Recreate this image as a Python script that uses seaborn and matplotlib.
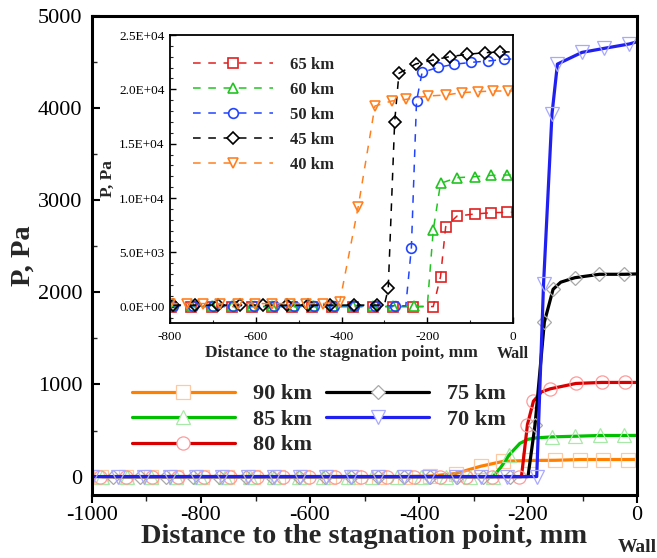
import matplotlib
matplotlib.use("Agg")
import matplotlib.pyplot as plt
from matplotlib.lines import Line2D
from matplotlib.ticker import MultipleLocator, FuncFormatter
import seaborn as sns

# ---------------- main plot data (P, Pa vs distance, mm) ----------------
labels_main = ["90 km", "85 km", "80 km", "75 km", "70 km"]

x90 = [-984, -938, -891, -845, -798, -752, -705, -659, -612, -566, -519, -473, -426, -380,
       -333, -287, -245, -198, -150, -104, -62, -16, 0]
y90 = [0, 0, 0, 0, 0, 0, 0, 0, 0, 0, 0, 0, 0, 5,
       33, 112, 166, 175, 177, 185, 185, 185, 186]
m90 = list(range(22))

x85 = [-981, -936, -891, -846, -801, -756, -711, -666, -621, -576, -531, -486, -441, -396,
       -351, -306, -264, -250, -234, -215, -200, -185, -156, -113, -68, -23, 0]
y85 = [0, 0, 0, 0, 0, 0, 0, 0, 0, 0, 0, 0, 0, 0,
       0, 0, 0, 100, 239, 360, 405, 420, 431, 438, 446, 446, 447]
m85 = list(range(17)) + [18] + list(range(22, 26))

x80 = [-986, -938, -890, -842, -794, -746, -698, -650, -602, -554, -506, -458, -410, -362,
       -314, -266, -217, -212, -201, -190, -175, -159, -112, -65, -22, 0]
y80 = [0, 0, 0, 0, 0, 0, 0, 0, 0, 0, 0, 0, 0, 0,
       0, 0, 0, 0, 565, 819, 920, 953, 1011, 1022, 1022, 1022]
m80 = list(range(17)) + [18, 19] + list(range(21, 25))

x75 = [-961, -912, -864, -815, -767, -718, -670, -621, -573, -524, -476, -427, -379, -330,
       -282, -233, -200, -187, -170, -154, -140, -114, -69, -23, 0]
y75 = [0, 0, 0, 0, 0, 0, 0, 0, 0, 0, 0, 0, 0, 0,
       0, 0, 0, 565, 1677, 2033, 2110, 2159, 2196, 2196, 2200]
m75 = list(range(16)) + [17, 18, 19] + [21, 22, 23]

x70 = [-1000, -952, -905, -857, -809, -762, -714, -666, -619, -571, -524, -476, -428, -381,
       -333, -286, -238, -184, -171.5, -156, -146, -101, -60, -14.6, 0]
y70 = [0, 0, 0, 0, 0, 0, 0, 0, 0, 0, 0, 0, 0, 0,
       0, 0, 0, 0, 2087, 3935, 4478, 4605, 4649, 4696, 4720]
m70 = list(range(24))

# ---------------- inset data ----------------
labels_ins = ["65 km", "60 km", "50 km", "45 km", "40 km"]

i65x = [-797, -750, -703, -656, -609, -562, -515, -468, -421, -374, -327, -280, -233,
        -186, -169, -157, -130.5, -89, -50.5, -13, 0]
i65y = [11] * 13 + [11, 2760, 7360, 8340, 8530, 8650, 8680, 8690]
i65m = list(range(20))

i60x = [-796, -749, -702, -655, -608, -561, -514, -467, -420, -373, -326, -279, -232,
        -200, -186, -169, -130.5, -89, -52, -13, 0]
i60y = [22] * 13 + [22, 7055, 11350, 11871, 11963, 12086, 12117, 12120]
i60m = list(range(13)) + list(range(14, 20))

i50x = [-793, -746, -699, -652, -605, -558, -511, -464, -417, -370, -323, -276,
        -250, -237, -225, -212, -174, -138, -97, -58, -20, 0]
i50y = [80] * 12 + [80, 5429, 18926, 21564, 22024, 22300, 22485, 22607, 22761, 22800]
i50m = list(range(12)) + list(range(13, 21))

i45x = [-792, -742, -687, -637, -582, -528, -478, -427, -371, -318,
        -300, -291, -276, -266, -227, -186, -148, -107, -66, -30, 0]
i45y = [149] * 10 + [149, 1687, 17025, 21472, 22331, 22699, 23006, 23221, 23374, 23436, 23450]
i45m = list(range(10)) + list(range(11, 20))

i40x = [-800, -761, -722, -683, -641, -602, -563, -520, -482, -443, -404,
        -361, -322, -283, -249, -198, -157, -120, -82, -47, -12, 0]
i40y = [287] * 10 + [460, 9200, 18466, 18926, 19080, 19387, 19479, 19693, 19785, 19847, 19847, 19850]
i40m = list(range(21))

# ---------------- styling ----------------
sns.set_theme(style="ticks")
plt.rcParams['font.family'] = ['Liberation Serif', 'DejaVu Serif']
plt.rcParams['axes.unicode_minus'] = False

fig = plt.figure(figsize=(6.57, 5.58), dpi=100)
W, H = 657, 558
ax = fig.add_axes([92 / W, 1 - 495 / H, (637 - 92) / W, (495 - 16) / H])

main_series = [
    (x90, y90, m90, "#FF8000", "s", "#FFC8A0"),
    (x85, y85, m85, "#00C000", "^", "#A8E8A8"),
    (x80, y80, m80, "#D80000", "o", "#FF9A9A"),
    (x75, y75, m75, "#000000", "D", "#A8A8A8"),
    (x70, y70, m70, "#2020F0", "v", "#A8A8FF"),
]
handles = []
for (xs, ys, mk, col, mrk, mec), lab in zip(main_series, labels_main):
    ms = 7.5 if mrk == "D" else 9.5
    sns.lineplot(x=xs, y=ys, ax=ax, color=col, lw=2.3, marker=mrk, markersize=ms,
                 markerfacecolor="none", markeredgecolor=mec, markeredgewidth=0.9,
                 markevery=mk, sort=False, estimator=None)
    handles.append(Line2D([], [], color=col, lw=2.3, marker=mrk, markersize=ms,
                          markerfacecolor="white", markeredgecolor=mec, markeredgewidth=0.9))

ax.set_xlim(-1000, 0)
ax.set_ylim(-200, 5000)
ax.xaxis.set_major_locator(MultipleLocator(200))
ax.xaxis.set_minor_locator(MultipleLocator(100))
ax.yaxis.set_major_locator(MultipleLocator(1000))
ax.yaxis.set_minor_locator(MultipleLocator(500))
for s in ax.spines.values():
    s.set_linewidth(2.2)
    s.set_color("black")
ax.tick_params(axis="x", which="major", direction="out", length=6, width=1.5,
               labelsize=16, pad=2, colors="black")
ax.tick_params(axis="x", which="minor", direction="out", length=4, width=1.0)
ax.tick_params(axis="y", which="major", direction="in", length=6, width=1.5,
               labelsize=16, pad=7, colors="black")
ax.tick_params(axis="y", which="minor", direction="in", length=3.5, width=1.0)
ax.set_xlabel("Distance to the stagnation point, mm", fontsize=20.5, fontweight="bold", labelpad=-1)
ax.set_ylabel("P, Pa", fontsize=20.5, fontweight="bold")
ax.yaxis.set_label_coords(-0.103, 0.5)
ax.annotate("Wall", xy=(0, 0), xycoords=("data", "axes fraction"), xytext=(0, -38),
            textcoords="offset points", ha="center", va="center", fontsize=14, fontweight="bold")

leg = ax.legend(handles, labels_main, ncol=2, loc="upper left", bbox_to_anchor=(0.073, 0.232),
                frameon=False, prop=dict(weight="bold", size=16), handlelength=4.65,
                handletextpad=0.8, columnspacing=0.63, labelspacing=0.22,
                borderpad=0, borderaxespad=0)

# ---------------- inset ----------------
axi = fig.add_axes([170 / W, 1 - 323 / H, (513 - 170) / W, (323 - 35) / H])
ins_series = [
    (i65x, i65y, i65m, "#E02020", "s"),
    (i60x, i60y, i60m, "#22C422", "^"),
    (i50x, i50y, i50m, "#2244FF", "o"),
    (i45x, i45y, i45m, "#000000", "D"),
    (i40x, i40y, i40m, "#FF8020", "v"),
]
ihandles = []
dash = (0, (5, 5))
for (xs, ys, mk, col, mrk), lab in zip(ins_series, labels_ins):
    ms = 6 if mrk == "D" else 7
    sns.lineplot(x=xs, y=ys, ax=axi, color=col, lw=1.1, linestyle=dash, marker=mrk,
                 markersize=ms, markerfacecolor="none", markeredgecolor=col,
                 markeredgewidth=1.2, markevery=mk, sort=False, estimator=None)
    ihandles.append(Line2D([], [], color=col, lw=1.1, linestyle=dash, marker=mrk, markersize=ms,
                           markerfacecolor="white", markeredgecolor=col, markeredgewidth=1.2))

axi.set_xlim(-800, 0)
axi.set_ylim(-1500, 25000)
axi.xaxis.set_major_locator(MultipleLocator(200))
axi.xaxis.set_minor_locator(MultipleLocator(100))
axi.yaxis.set_major_locator(MultipleLocator(5000))
axi.yaxis.set_minor_locator(MultipleLocator(1000))
axi.yaxis.set_major_formatter(FuncFormatter(lambda v, p: f"{v:.1E}"))
for s in axi.spines.values():
    s.set_linewidth(1.3)
    s.set_color("black")
axi.tick_params(axis="both", which="major", direction="in", length=4, width=1.0,
                labelsize=9.5, colors="black")
axi.tick_params(axis="x", which="major", pad=6)
axi.tick_params(axis="y", which="major", pad=4)
axi.tick_params(axis="both", which="minor", direction="in", length=2, width=0.8)
axi.set_xlabel("Distance to the stagnation point, mm", fontsize=12.5, fontweight="bold", labelpad=1)
axi.set_ylabel("P, Pa", fontsize=12.5, fontweight="bold", labelpad=2)
axi.annotate("Wall", xy=(0, 0), xycoords=("data", "axes fraction"), xytext=(0, -22),
             textcoords="offset points", ha="center", va="center", fontsize=11.5, fontweight="bold")
axi.legend(ihandles, labels_ins, loc="upper left", bbox_to_anchor=(0.067, 0.925),
           frameon=False, prop=dict(weight="bold", size=12), handlelength=4.8,
           handletextpad=1.0, labelspacing=0.55, borderpad=0, borderaxespad=0)

fig.savefig("out.png", dpi=100)
